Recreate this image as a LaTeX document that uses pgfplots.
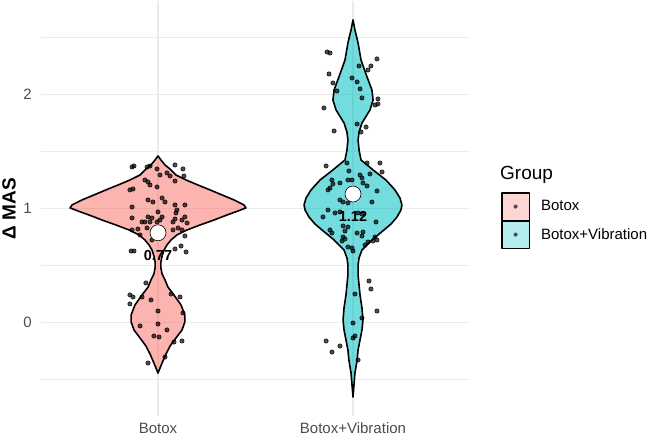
\documentclass[border=0pt]{standalone}
\usepackage{fontspec}
\setmainfont{Liberation Sans}
\usepackage{pgfplots}
\pgfplotsset{compat=1.18}
\definecolor{pinkv}{HTML}{F8766D}
\definecolor{bluev}{HTML}{00BFC4}
\definecolor{gridc}{HTML}{EBEBEB}
\definecolor{tickc}{HTML}{4D4D4D}
\begin{document}
\begin{tikzpicture}
\begin{axis}[
  scale only axis, width=429pt, height=415pt,
  xmin=0.4, xmax=2.6, ymin=-0.822, ymax=2.818,
  clip mode=individual,
  axis line style={draw=none},
  major tick length=0pt, minor tick length=0pt,
  xtick={1,2}, xticklabels={Botox,Botox+Vibration},
  ytick={0,1,2}, yticklabels={0,1,2},
  minor ytick={-0.5,0.5,1.5,2.5},
  xmajorgrids, ymajorgrids, yminorgrids,
  major grid style={draw=gridc, line width=1.3pt},
  minor grid style={draw=gridc, line width=0.7pt},
  /pgf/number format/assume math mode=true,
  tick label style={font=\fontsize{15}{18}\selectfont, text=tickc, inner sep=0pt},
  yticklabel style={anchor=east, xshift=-9pt},
  xticklabel style={anchor=north, yshift=-6.5pt},
  ylabel={\textbf{Δ MAS}},
  ylabel style={at={(axis description cs:-0.0746,0.5)}, anchor=center, font=\fontsize{19}{22}\selectfont},
  legend style={at={(axis description cs:1.0723,0.5398)}, anchor=north west, draw=none, fill=none,
    inner sep=0pt, outer sep=0pt, row sep=-1.2pt, column sep=11pt,
    nodes={inner sep=0pt, outer sep=0pt, font=\fontsize{15}{18}\selectfont}},
  legend cell align=left,
]
% Botox violin
\addplot[draw=black, line width=1.6pt, fill=pinkv, fill opacity=0.55, line join=round,
  legend image code/.code={\draw[black, line width=1.6pt, fill=pinkv!55] (0pt,-13.8pt) rectangle (27.5pt,13.8pt); \fill[black!70] (13.75pt,0pt) circle (1.4pt);}]
coordinates {
(1.000,-0.445) (1.021,-0.357) (1.041,-0.278) (1.062,-0.208) (1.092,-0.138) (1.123,-0.068)
(1.138,0.003) (1.138,0.064) (1.118,0.152) (1.082,0.239) (1.051,0.309) (1.036,0.371)
(1.021,0.424) (1.015,0.476) (1.015,0.529) (1.021,0.582) (1.031,0.634) (1.046,0.678)
(1.067,0.722) (1.097,0.766) (1.149,0.810) (1.215,0.853) (1.287,0.897) (1.354,0.941)
(1.410,0.976) (1.451,1.003) (1.441,1.029) (1.390,1.073) (1.328,1.117) (1.267,1.161)
(1.205,1.204) (1.144,1.248) (1.092,1.292) (1.067,1.336) (1.036,1.380) (1.015,1.424)
(1.000,1.459)
(0.985,1.424) (0.964,1.380) (0.933,1.336) (0.908,1.292) (0.856,1.248) (0.795,1.204)
(0.733,1.161) (0.672,1.117) (0.610,1.073) (0.559,1.029) (0.549,1.003) (0.590,0.976)
(0.646,0.941) (0.713,0.897) (0.785,0.853) (0.851,0.810) (0.903,0.766) (0.933,0.722)
(0.954,0.678) (0.969,0.634) (0.979,0.582) (0.985,0.529) (0.985,0.476) (0.979,0.424)
(0.964,0.371) (0.949,0.309) (0.918,0.239) (0.882,0.152) (0.862,0.064) (0.862,0.003)
(0.877,-0.068) (0.908,-0.138) (0.938,-0.208) (0.959,-0.278) (0.979,-0.357) (1.000,-0.445)
} -- cycle;
\addlegendentry{Botox}
% Botox+Vibration violin
\addplot[draw=black, line width=1.6pt, fill=bluev, fill opacity=0.55, line join=round,
  legend image code/.code={\draw[black, line width=1.6pt, fill=bluev!55] (0pt,-13.8pt) rectangle (27.5pt,13.8pt); \fill[black!70] (13.75pt,0pt) circle (1.4pt);}]
coordinates {
(2.000,-0.655) (2.005,-0.550) (2.010,-0.445) (2.021,-0.331) (2.026,-0.243) (2.036,-0.155)
(2.046,-0.067) (2.051,0.020) (2.046,0.126) (2.036,0.240) (2.031,0.327) (2.026,0.415)
(2.026,0.503) (2.031,0.564) (2.046,0.634) (2.097,0.722) (2.159,0.810) (2.195,0.862)
(2.226,0.924) (2.246,0.985) (2.251,1.029) (2.241,1.090) (2.215,1.161) (2.169,1.248)
(2.103,1.336) (2.041,1.424) (2.031,1.511) (2.026,1.599) (2.031,1.669) (2.046,1.748)
(2.087,1.862) (2.103,1.950) (2.097,2.038) (2.072,2.152) (2.041,2.301) (2.026,2.450)
(2.010,2.564) (2.000,2.652)
(1.990,2.564) (1.974,2.450) (1.959,2.301) (1.928,2.152) (1.903,2.038) (1.897,1.950)
(1.913,1.862) (1.954,1.748) (1.969,1.669) (1.974,1.599) (1.969,1.511) (1.959,1.424)
(1.897,1.336) (1.831,1.248) (1.785,1.161) (1.759,1.090) (1.749,1.029) (1.754,0.985)
(1.774,0.924) (1.805,0.862) (1.841,0.810) (1.903,0.722) (1.954,0.634) (1.969,0.564)
(1.974,0.503) (1.974,0.415) (1.969,0.327) (1.964,0.240) (1.954,0.126) (1.949,0.020)
(1.954,-0.067) (1.964,-0.155) (1.974,-0.243) (1.979,-0.331) (1.990,-0.445) (1.995,-0.550)
(2.000,-0.655)
} -- cycle;
\addlegendentry{Botox+Vibration}
% jittered points
\addplot[only marks, mark=*, mark size=2.2pt, mark options={draw=none, fill=black, fill opacity=0.7}, forget plot]
coordinates {
(0.867,1.362) (0.877,1.371) (0.944,1.362) (0.959,1.371) (0.995,1.345) (1.087,1.380) (1.128,1.345)
(1.133,1.283) (1.046,1.310) (1.062,1.283) (1.010,1.292) (0.933,1.248) (0.949,1.231) (0.959,1.204)
(0.995,1.187) (1.087,1.239) (0.856,1.161) (0.872,1.169) (0.949,1.073) (0.974,1.055) (1.021,1.090)
(1.036,1.055) (1.087,1.029) (1.097,0.985) (1.092,0.959) (1.138,1.029) (0.867,1.011) (1.000,0.968)
(1.021,0.924) (1.010,0.897) (0.949,0.924) (0.969,0.915) (1.138,0.924) (0.867,0.915) (0.918,0.880)
(0.933,0.880) (0.959,0.880) (0.995,0.880) (1.077,0.880) (1.087,0.906) (1.123,0.897) (1.149,0.871)
(0.897,0.818) (0.944,0.827) (0.867,0.810) (1.077,0.810) (1.103,0.827) (1.123,0.810) (1.026,0.810)
(0.862,0.625) (0.877,0.625) (1.087,0.643) (1.118,0.669) (1.144,0.617) (0.938,0.345) (0.856,0.240)
(0.872,0.222) (0.918,0.222) (0.856,0.161) (0.964,0.196) (1.067,0.248) (1.113,0.222) (1.000,0.099)
(1.128,0.082) (0.908,-0.032) (1.000,-0.015) (1.046,-0.067) (0.979,-0.120) (1.005,-0.129)
(1.082,-0.173) (1.123,-0.164) (1.036,-0.305) (0.949,-0.357) (0.908,0.766) (1.138,0.757) (0.969,0.722)
};
\addplot[only marks, mark=*, mark size=2.2pt, mark options={draw=none, fill=black, fill opacity=0.7}, forget plot]
coordinates {
(1.867,2.371) (1.882,2.362) (2.123,2.310) (2.092,2.248) (2.077,2.213) (2.031,2.248) (1.877,2.178)
(1.995,2.143) (2.021,2.108) (1.897,2.099) (1.918,2.029) (2.036,2.047) (2.046,1.968) (2.128,1.959)
(2.113,1.906) (2.128,1.915) (1.851,1.880) (2.021,1.739) (2.067,1.713) (2.041,1.669) (1.903,1.678)
(1.862,1.371) (1.969,1.397) (2.072,1.397) (2.138,1.397) (2.149,1.318) (1.979,1.327) (2.087,1.301)
(2.036,1.292) (2.046,1.266) (1.892,1.248) (1.897,1.213) (1.933,1.222) (1.974,1.248) (1.995,1.248)
(2.051,1.222) (2.072,1.196) (1.882,1.178) (1.872,1.161) (2.123,1.152) (1.933,1.073) (1.949,1.055)
(1.974,1.046) (2.097,1.055) (1.872,0.985) (1.908,0.959) (1.933,0.968) (2.026,0.959) (2.046,0.950)
(1.846,0.924) (2.118,0.880) (1.882,0.810) (1.892,0.783) (1.949,0.845) (1.974,0.836) (1.959,0.801)
(2.021,0.783) (2.051,0.792) (2.046,0.757) (1.949,0.748) (1.944,0.713) (1.959,0.731) (2.113,0.748)
(2.103,0.713) (1.974,0.660) (1.995,0.652) (2.000,0.625) (2.077,0.704) (2.123,0.722) (2.062,0.678)
(2.082,0.362) (2.092,0.292) (2.010,0.248) (2.123,0.099) (2.046,0.038) (2.000,-0.006) (2.010,-0.120)
(2.000,-0.138) (1.862,-0.164) (1.892,-0.261) (1.933,-0.208) (2.026,-0.331)
};
% means
\addplot[only marks, mark=*, mark size=8pt, mark options={draw=black, fill=white, line width=0.6pt}, forget plot]
coordinates {(1,0.785) (2,1.125)};
\node[anchor=base, font=\fontsize{14.5}{17}\selectfont\bfseries, inner sep=0pt] at (axis cs:1,0.546) {0.77};
\node[anchor=base, font=\fontsize{14.5}{17}\selectfont\bfseries, inner sep=0pt] at (axis cs:2,0.880) {1.12};
\node[anchor=base west, font=\fontsize{19}{22}\selectfont, inner sep=0pt] at (axis description cs:1.0699,0.5687) {Group};
\end{axis}
\pgfresetboundingbox
\path[use as bounding box] (-41pt,-20pt) rectangle (609pt,416pt);
\end{tikzpicture}
\end{document}
